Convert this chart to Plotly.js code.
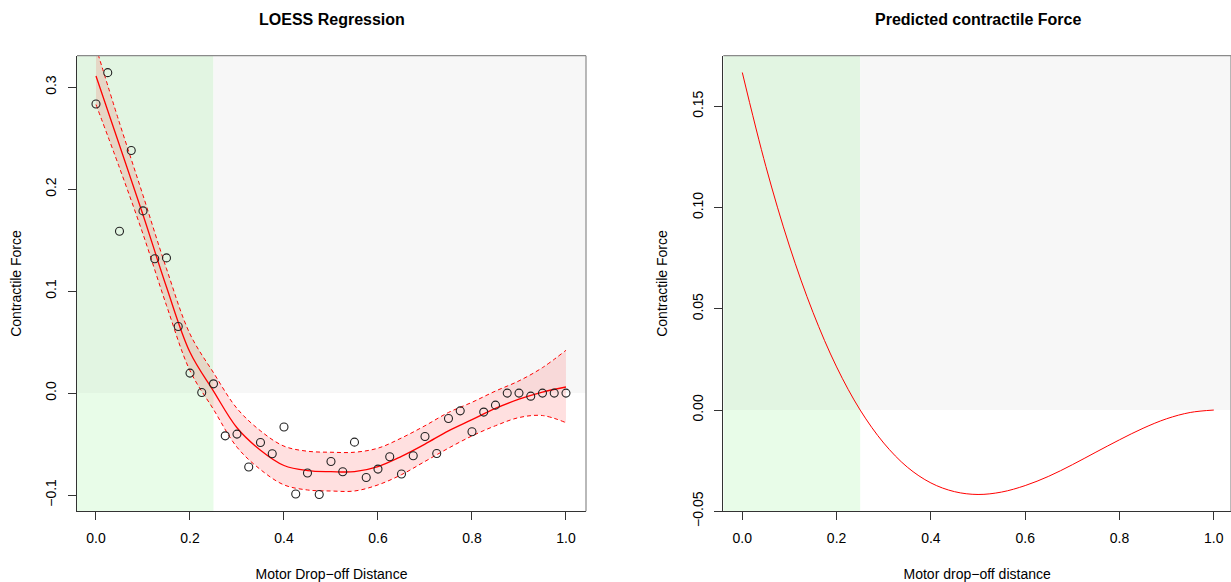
<!DOCTYPE html>
<html>
<head>
<meta charset="utf-8">
<script src="https://cdn.plot.ly/plotly-3.0.1.min.js"></script>
<style>html,body{margin:0;padding:0;background:#fff;}#chart{width:1231px;height:582px;}</style>
</head>
<body>
<div id="chart"></div>
<script>
// ---- Observed data (left panel) ----
const pointX = [0.000,0.025,0.050,0.075,0.100,0.125,0.150,0.175,0.200,0.225,
                0.250,0.275,0.300,0.325,0.350,0.375,0.400,0.425,0.450,0.475,
                0.500,0.525,0.550,0.575,0.600,0.625,0.650,0.675,0.700,0.725,
                0.750,0.775,0.800,0.825,0.850,0.875,0.900,0.925,0.950,0.975,1.000];
const pointY = [0.2836,0.3143,0.1588,0.2379,0.1787,0.1317,0.1326,0.0653,0.0196,0.0006,
                0.0091,-0.0419,-0.0402,-0.0725,-0.0484,-0.0595,-0.0333,-0.0990,-0.0784,-0.0994,
                -0.0670,-0.0771,-0.0481,-0.0827,-0.0745,-0.0624,-0.0794,-0.0615,-0.0425,-0.0592,
                -0.0249,-0.0174,-0.0379,-0.0186,-0.0118,0.0000,0.0000,-0.0030,0.0000,0.0000,0.0000];

// ---- LOESS fit and confidence band (left panel) ----
const fitX = [0.00,0.05,0.10,0.15,0.20,0.25,0.30,0.35,0.40,0.45,0.50,
              0.55,0.60,0.65,0.70,0.75,0.80,0.85,0.90,0.95,1.00];
const fitY = [0.311,0.243,0.175,0.104,0.040,0.002,-0.034,-0.056,-0.071,-0.076,-0.077,
              -0.077,-0.072,-0.062,-0.050,-0.037,-0.026,-0.015,-0.006,0.001,0.006];
const bandUpper = [0.339,0.265,0.194,0.122,0.058,0.020,-0.015,-0.037,-0.052,-0.057,-0.058,
                   -0.058,-0.054,-0.044,-0.032,-0.019,-0.009,0.002,0.012,0.025,0.042];
const bandLower = [0.283,0.221,0.156,0.086,0.022,-0.016,-0.053,-0.075,-0.090,-0.095,-0.096,
                   -0.096,-0.090,-0.080,-0.067,-0.054,-0.042,-0.032,-0.024,-0.022,-0.029];

// ---- Predicted contractile force (right panel) ----
const predX = [0.00,0.05,0.10,0.15,0.20,0.25,0.30,0.35,0.40,0.45,0.50,
               0.55,0.60,0.65,0.70,0.75,0.80,0.85,0.90,0.95,1.00];
const predY = [0.1667,0.1203,0.0810,0.0482,0.0213,0.0000,-0.0163,-0.0282,-0.0360,-0.0403,-0.0417,
               -0.0405,-0.0373,-0.0327,-0.0270,-0.0208,-0.0147,-0.0090,-0.0043,-0.0012,0.0000];

// ---- Tick labels ----
const xTickVals = [0,0.2,0.4,0.6,0.8,1.0];
const xTickText = ["0.0","0.2","0.4","0.6","0.8","1.0"];
const yTickVals1 = [-0.1,0,0.1,0.2,0.3];
const yTickText1 = ["\u22120.1","0.0","0.1","0.2","0.3"];
const yTickVals2 = [-0.05,0,0.05,0.10,0.15];
const yTickText2 = ["\u22120.05","0.00","0.05","0.10","0.15"];

const threshold = 0.25;
const xr1 = [-0.0404,1.0426], yr1 = [-0.1159,0.3309];
const xr2 = [-0.0403,1.0365], yr2 = [-0.05,0.175];

const FONT = "Liberation Sans, Arial, Helvetica, sans-serif";
const RED = "#FF0000";

const traces = [
  {x: fitX, y: bandLower, type:'scatter', mode:'lines', xaxis:'x', yaxis:'y',
   line:{color:RED, width:1, dash:'4px,3px', shape:'spline', smoothing:1}, hoverinfo:'skip'},
  {x: fitX, y: bandUpper, type:'scatter', mode:'lines', xaxis:'x', yaxis:'y', fill:'tonexty',
   fillcolor:'rgba(255,0,0,0.12)',
   line:{color:RED, width:1, dash:'4px,3px', shape:'spline', smoothing:1}, hoverinfo:'skip'},
  {x: fitX, y: fitY, type:'scatter', mode:'lines', xaxis:'x', yaxis:'y',
   line:{color:RED, width:1.3, shape:'spline', smoothing:1}},
  {x: pointX, y: pointY, type:'scatter', mode:'markers', xaxis:'x', yaxis:'y',
   marker:{symbol:'circle-open', size:8, color:'#222', line:{width:1.1, color:'#222'}}},
  {x: predX, y: predY, type:'scatter', mode:'lines', xaxis:'x2', yaxis:'y2',
   line:{color:RED, width:1, shape:'spline', smoothing:1}}
];

function regionShapes(xa, ya, xr, yr) {
  return [
    {type:'rect', xref:xa, yref:ya, x0:xr[0], x1:threshold, y0:yr[0], y1:0, layer:'below',
     fillcolor:'#E8FCE8', line:{width:0}},
    {type:'rect', xref:xa, yref:ya, x0:xr[0], x1:threshold, y0:0, y1:yr[1], layer:'below',
     fillcolor:'#E2F5E2', line:{width:0}},
    {type:'rect', xref:xa, yref:ya, x0:threshold, x1:xr[1], y0:0, y1:yr[1], layer:'below',
     fillcolor:'#F7F7F7', line:{width:0}},
    {type:'line', xref:xa+' domain', yref:ya+' domain', x0:0, x1:1, y0:1, y1:1,
     line:{color:'#8a8a8a', width:1.2}},
    {type:'line', xref:xa+' domain', yref:ya+' domain', x0:1, x1:1, y0:0, y1:1,
     line:{color:'#8a8a8a', width:1.2}}
  ];
}

const axisCommon = {
  showgrid:false, zeroline:false, showline:true, linecolor:'#333', linewidth:1,
  ticks:'outside', ticklen:8, tickcolor:'#333', tickwidth:1,
  tickfont:{family:FONT, size:14, color:'#000'}, fixedrange:true
};

const layout = {
  width:1231, height:582,
  margin:{l:0, r:0, t:0, b:0},
  paper_bgcolor:'#fff', plot_bgcolor:'#fff',
  showlegend:false,
  font:{family:FONT, color:'#000'},
  xaxis: Object.assign({}, axisCommon, {domain:[77/1231, 586/1231], range:xr1, anchor:'y',
    tickvals:xTickVals, ticktext:xTickText, ticklabelstandoff:6,
    title:{text:'Motor Drop\u2212off Distance', font:{family:FONT, size:14}, standoff:25}}),
  yaxis: Object.assign({}, axisCommon, {domain:[0.1215, 0.9043], range:yr1, anchor:'x',
    tickvals:yTickVals1, ticktext:yTickText1, tickangle:-90, ticklabelstandoff:6,
    title:{text:'Contractile Force', font:{family:FONT, size:14}, standoff:18}}),
  xaxis2: Object.assign({}, axisCommon, {domain:[723.3/1231, 1], range:xr2, anchor:'y2',
    tickvals:xTickVals, ticktext:xTickText, ticklabelstandoff:6,
    title:{text:'Motor drop\u2212off distance', font:{family:FONT, size:14}, standoff:25}}),
  yaxis2: Object.assign({}, axisCommon, {domain:[0.1215, 0.9043], range:yr2, anchor:'x2',
    tickvals:yTickVals2, ticktext:yTickText2, tickangle:-90, ticklabelstandoff:6,
    title:{text:'Contractile Force', font:{family:FONT, size:14}, standoff:18}}),
  shapes: regionShapes('x','y',xr1,yr1).concat(regionShapes('x2','y2',xr2,yr2)),
  annotations: [
    {text:'<b>LOESS Regression</b>', xref:'paper', yref:'paper', x:331.5/1231, y:1-20/582,
     xanchor:'center', yanchor:'middle', showarrow:false, font:{family:FONT, size:16, color:'#000'}},
    {text:'<b>Predicted contractile Force</b>', xref:'paper', yref:'paper', x:977.5/1231, y:1-20/582,
     xanchor:'center', yanchor:'middle', showarrow:false, font:{family:FONT, size:16, color:'#000'}}
  ]
};

Plotly.newPlot('chart', traces, layout, {staticPlot:true, displayModeBar:false});
</script>
</body>
</html>
